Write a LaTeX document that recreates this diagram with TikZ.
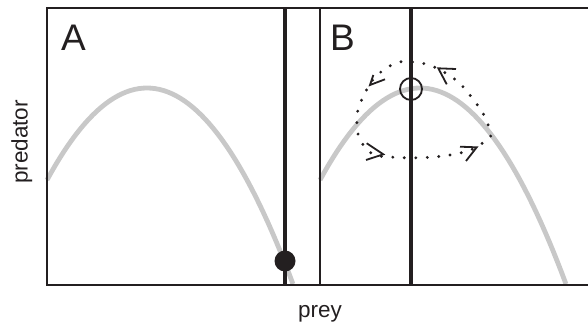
\documentclass[tikz,border=0pt]{standalone}
\usepackage{fontspec}
\setmainfont{Liberation Sans}
\definecolor{ink}{RGB}{35,31,32}
\definecolor{curvegray}{RGB}{200,200,200}
\begin{document}
\begin{tikzpicture}[x=1pt,y=-1pt,
  frame/.style={draw=ink, line width=1.8pt},
  barline/.style={draw=ink, line width=4.5pt},
  parab/.style={draw=curvegray, line width=4.8pt},
  loopdots/.style={draw=ink, line width=3.2pt, line cap=round, dash pattern=on 0pt off 11.5pt},
  chev/.style={draw=ink, line width=1.8pt, line join=miter},
  bigletter/.style={inner sep=0pt, text=ink, font=\fontsize{37}{37}\selectfont},
  axislab/.style={inner sep=0pt, text=ink, font=\fontsize{22.5}{22.5}\selectfont}]
\useasboundingbox (0,0) rectangle (588,324);
% curves
\draw[parab] plot[domain=-1:1.46, samples=60] ({147+100*\x},{88+92*\x*\x});
\draw[parab] plot[domain=-1:1.46, samples=60] ({420+100*\x},{88+92*\x*\x});
% frame
\coordinate (tr) at (588,8);
\coordinate (tl) at (47,8);
\coordinate (bl) at (47,285);
\coordinate (br) at (588,285);
\draw[frame] (tr) -- (tl) -- (bl) -- (br);
\coordinate (dtop) at (320,8);
\coordinate (dbot) at (320,285);
\draw[frame, line width=2pt] (dtop) -- (dbot);
% thick vertical lines
\coordinate (atop) at (285,8);
\coordinate (abot) at (285,285);
\coordinate (btop) at (411,8);
\coordinate (bbot) at (411,285);
\draw[barline] (atop) -- (abot);
\draw[barline] (btop) -- (bbot);
% equilibria
\fill[ink] (285,261) circle[radius=10.5];
\draw[ink, line width=1.8pt] (411,89) circle[radius=11];
% dotted cycle
\draw[loopdots] plot[smooth cycle, tension=0.8] coordinates {(390,157) (450,155) (484,142) (489,128) (473,99) (447,74) (413,62) (385,69) (364,95) (357,125) (367,149)};
% chevrons
\draw[chev] (366.7,143.3) -- (383.3,154.3) -- (366,160);
\draw[chev] (373.3,75) -- (370,85) -- (385,79.3);
\draw[chev] (456,69) -- (438.3,68.3) -- (446.7,84.3);
\draw[chev] (460,146.7) -- (476.7,147.3) -- (466,161);
% labels
\node[bigletter, anchor=base west] (labA) at (61,50) {A};
\node[bigletter, anchor=base west] (labB) at (330,50) {B};
\node[axislab, anchor=base] (prey) at (320,317) {prey};
\node[axislab, anchor=base, rotate=90] (pred) at (27.5,142) {predator};
\end{tikzpicture}
\end{document}
